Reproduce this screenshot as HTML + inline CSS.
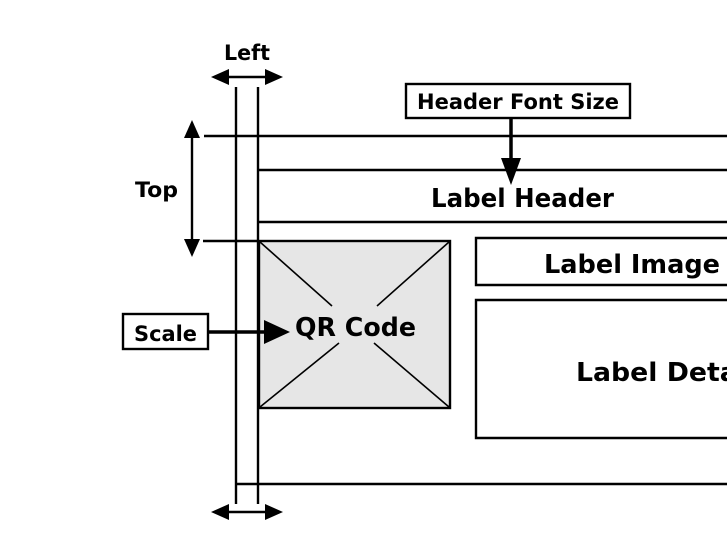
<!DOCTYPE html>
<html><head><style>html,body{margin:0;padding:0;background:#fff;overflow:hidden}</style></head>
<body>
<svg width="727" height="557" viewBox="0 0 727 557" xmlns="http://www.w3.org/2000/svg" style="display:block">
<g stroke="#000" stroke-width="2.4" fill="none">
<line x1="204" y1="136" x2="727" y2="136"/>
<line x1="236" y1="484" x2="727" y2="484"/>
<line x1="236" y1="87" x2="236" y2="504"/>
<line x1="258" y1="87" x2="258" y2="504"/>
<line x1="203" y1="241" x2="259" y2="241"/>
<line x1="258" y1="170" x2="727" y2="170"/>
<line x1="258" y1="222" x2="727" y2="222"/>
<rect x="259" y="241" width="191" height="167" fill="#e6e6e6"/>
<line x1="260" y1="242" x2="332" y2="306" stroke-width="1.6"/>
<line x1="449" y1="242" x2="377" y2="306" stroke-width="1.6"/>
<line x1="260" y1="407" x2="339" y2="343" stroke-width="1.6"/>
<line x1="449" y1="407" x2="374" y2="343" stroke-width="1.6"/>
<path d="M730,238 H476 V285 H730"/>
<path d="M730,300 H476 V438 H730"/>
<rect x="406" y="84" width="224" height="34"/>
<rect x="123" y="314" width="85" height="35"/>
</g>
<g stroke="#000" stroke-width="3.5" fill="none">
<line x1="511" y1="118" x2="511" y2="165"/>
<line x1="208" y1="332" x2="272" y2="332"/>
</g>
<polygon points="501,158 521,158 511,185" fill="#000"/>
<polygon points="264,320 264,344 290,332" fill="#000"/>
<g stroke="#000" stroke-width="2.4">
<line x1="192" y1="132" x2="192" y2="245"/>
<line x1="222" y1="77" x2="272" y2="77"/>
<line x1="222" y1="512" x2="272" y2="512"/>
</g>
<g fill="#000">
<polygon points="192,120 184,138 200,138"/>
<polygon points="192,257 184,239 200,239"/>
<polygon points="211,77 229,69 229,85"/>
<polygon points="283,77 265,69 265,85"/>
<polygon points="211,512 229,504 229,520"/>
<polygon points="283,512 265,504 265,520"/>
</g>
<g font-family="DejaVu Sans, Liberation Sans, sans-serif" font-weight="bold" fill="#000">
<text x="224" y="60" font-size="21" textLength="46" lengthAdjust="spacingAndGlyphs">Left</text>
<text x="135" y="197" font-size="21" textLength="43" lengthAdjust="spacingAndGlyphs">Top</text>
<text x="134" y="341" font-size="21" textLength="63" lengthAdjust="spacingAndGlyphs">Scale</text>
<text x="417" y="109" font-size="21" textLength="202" lengthAdjust="spacingAndGlyphs">Header Font Size</text>
<text x="431" y="207" font-size="26" textLength="183" lengthAdjust="spacingAndGlyphs">Label Header</text>
<text x="544" y="273" font-size="26" textLength="176" lengthAdjust="spacingAndGlyphs">Label Image</text>
<text x="576" y="381" font-size="26" textLength="196" lengthAdjust="spacingAndGlyphs">Label Details</text>
<text x="295" y="336" font-size="26" textLength="121" lengthAdjust="spacingAndGlyphs">QR Code</text>
</g>
</svg>
</body></html>
